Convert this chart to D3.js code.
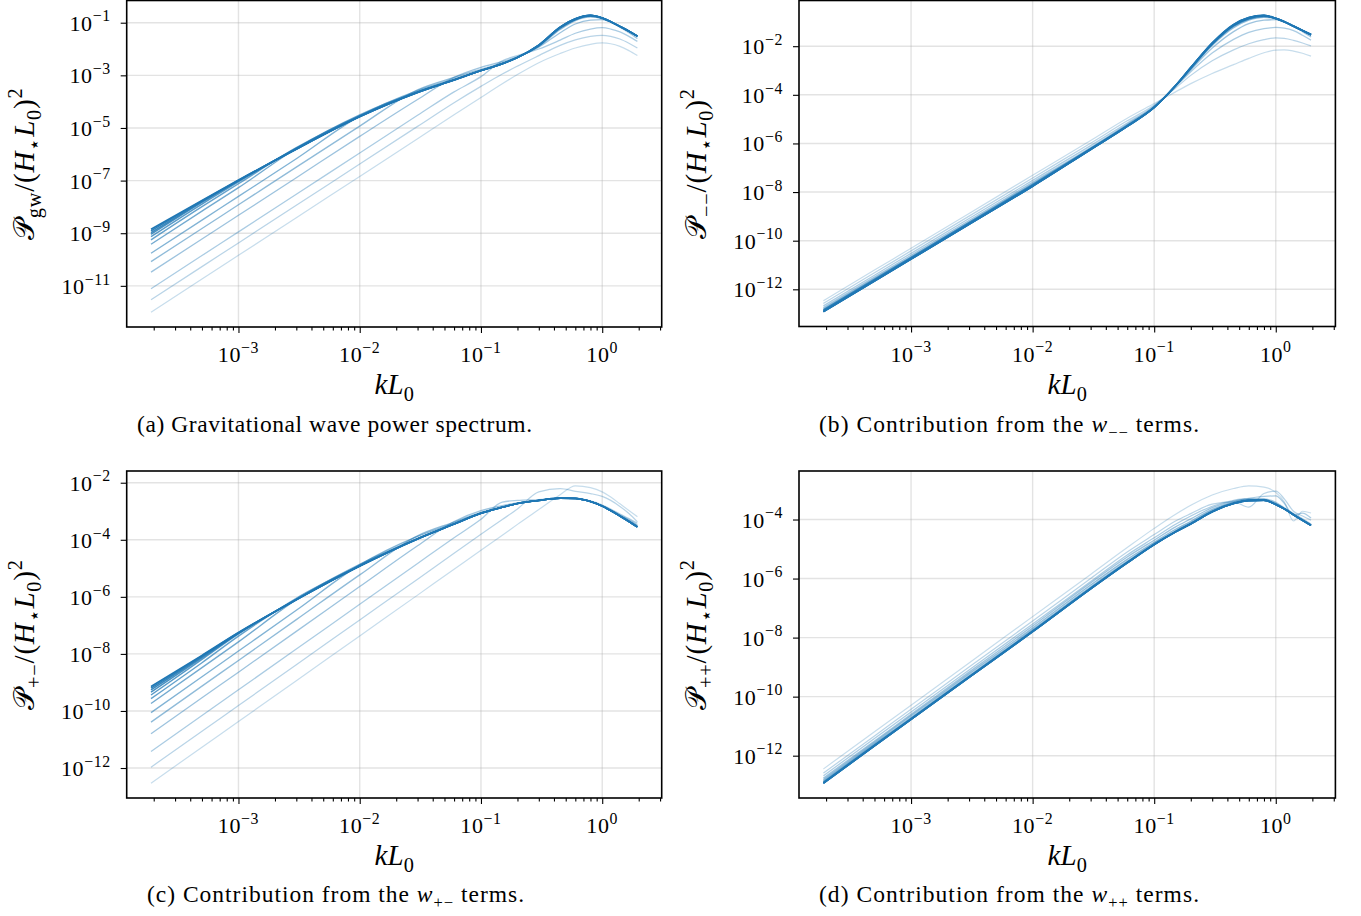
<!DOCTYPE html>
<html>
<head>
<meta charset="utf-8">
<script src="https://cdn.jsdelivr.net/npm/d3@7"></script>
<style>
  body { margin: 0; background: #fff; }
  svg text { font-family: "Liberation Serif", "Times New Roman", serif; fill: #000; }
</style>
</head>
<body>
<svg id="fig" width="1361" height="916"></svg>
<script>
// wavenumbers kL0 where every spectrum is sampled
const kL0 = [1.9e-4, 5e-4, 1e-3, 3e-3, 1e-2, 3e-2, 6e-2, 0.1, 0.15, 0.2, 0.3, 0.45, 0.6, 0.8, 1.0, 1.175, 1.4, 1.66, 1.95];

// log10 of the spectra, one row per snapshot, lightest first
const gwSpectra = [
  [-12.00, -10.74, -9.84, -8.41, -6.84, -5.41, -4.50, -3.84, -3.32, -2.97, -2.52, -2.17, -1.96, -1.82, -1.77, -1.80, -1.90, -2.06, -2.25],
  [-11.53, -10.27, -9.37, -7.94, -6.37, -4.94, -4.04, -3.42, -2.95, -2.65, -2.25, -1.86, -1.65, -1.52, -1.48, -1.52, -1.62, -1.78, -1.96],
  [-11.11, -9.85, -8.95, -7.52, -5.95, -4.52, -3.63, -3.05, -2.45, -2.25, -2.00, -1.66, -1.40, -1.24, -1.19, -1.24, -1.35, -1.52, -1.71],
  [-10.48, -9.22, -8.32, -6.89, -5.32, -3.92, -3.08, -2.70, -2.48, -2.30, -1.93, -1.38, -1.05, -0.90, -0.88, -0.98, -1.17, -1.38, -1.60],
  [-10.08, -8.82, -7.92, -6.49, -4.93, -3.55, -3.08, -2.77, -2.53, -2.31, -1.90, -1.26, -0.92, -0.78, -0.84, -0.98, -1.16, -1.34, -1.53],
  [-9.76, -8.50, -7.60, -6.17, -4.55, -3.58, -3.14, -2.81, -2.55, -2.32, -1.88, -1.22, -0.89, -0.76, -0.83, -0.97, -1.15, -1.33, -1.52],
  [-9.42, -8.16, -7.27, -5.78, -4.50, -3.62, -3.17, -2.82, -2.56, -2.32, -1.87, -1.20, -0.88, -0.75, -0.82, -0.96, -1.14, -1.32, -1.51],
  [-9.25, -7.99, -7.12, -5.75, -4.53, -3.63, -3.17, -2.82, -2.56, -2.32, -1.86, -1.19, -0.87, -0.74, -0.82, -0.96, -1.14, -1.32, -1.51],
  [-9.13, -7.89, -7.05, -5.77, -4.55, -3.64, -3.17, -2.82, -2.56, -2.32, -1.86, -1.18, -0.87, -0.73, -0.82, -0.96, -1.14, -1.32, -1.51],
  [-9.04, -7.83, -7.01, -5.80, -4.56, -3.64, -3.18, -2.82, -2.56, -2.32, -1.85, -1.18, -0.86, -0.73, -0.82, -0.96, -1.14, -1.32, -1.51],
  [-8.98, -7.80, -7.00, -5.81, -4.57, -3.65, -3.18, -2.82, -2.56, -2.32, -1.85, -1.17, -0.86, -0.72, -0.82, -0.96, -1.14, -1.32, -1.51],
  [-8.91, -7.77, -6.99, -5.80, -4.57, -3.65, -3.18, -2.82, -2.56, -2.32, -1.85, -1.17, -0.85, -0.72, -0.82, -0.96, -1.14, -1.32, -1.51],
  [-8.85, -7.75, -6.98, -5.80, -4.57, -3.65, -3.18, -2.82, -2.56, -2.32, -1.85, -1.17, -0.85, -0.72, -0.82, -0.96, -1.14, -1.32, -1.51]
];

const minusMinus = [
  [-12.47, -11.21, -10.31, -8.88, -7.31, -5.88, -4.96, -4.36, -3.88, -3.54, -3.12, -2.76, -2.50, -2.27, -2.16, -2.15, -2.20, -2.29, -2.41],
  [-12.58, -11.32, -10.42, -8.99, -7.42, -5.99, -5.07, -4.42, -3.72, -3.20, -2.60, -2.15, -1.90, -1.73, -1.66, -1.68, -1.76, -1.87, -1.99],
  [-12.68, -11.42, -10.52, -9.09, -7.52, -6.09, -5.16, -4.46, -3.66, -3.05, -2.28, -1.72, -1.43, -1.28, -1.23, -1.26, -1.36, -1.55, -1.75],
  [-12.76, -11.50, -10.60, -9.17, -7.60, -6.17, -5.21, -4.48, -3.64, -2.98, -2.08, -1.40, -1.07, -0.93, -0.91, -1.00, -1.18, -1.40, -1.62],
  [-12.82, -11.56, -10.66, -9.23, -7.66, -6.20, -5.24, -4.50, -3.63, -2.94, -1.97, -1.24, -0.93, -0.81, -0.86, -0.99, -1.18, -1.36, -1.55],
  [-12.84, -11.58, -10.68, -9.25, -7.68, -6.21, -5.26, -4.51, -3.63, -2.92, -1.93, -1.19, -0.89, -0.78, -0.87, -1.01, -1.19, -1.37, -1.54],
  [-12.86, -11.60, -10.70, -9.27, -7.70, -6.22, -5.27, -4.51, -3.63, -2.91, -1.92, -1.17, -0.87, -0.77, -0.87, -1.01, -1.19, -1.37, -1.54],
  [-12.88, -11.62, -10.72, -9.29, -7.72, -6.23, -5.28, -4.52, -3.63, -2.90, -1.91, -1.15, -0.86, -0.76, -0.86, -1.00, -1.18, -1.36, -1.53],
  [-12.90, -11.64, -10.74, -9.31, -7.74, -6.24, -5.29, -4.52, -3.63, -2.89, -1.90, -1.14, -0.85, -0.75, -0.86, -1.00, -1.18, -1.36, -1.53],
  [-12.91, -11.65, -10.75, -9.32, -7.75, -6.25, -5.30, -4.52, -3.62, -2.88, -1.89, -1.13, -0.84, -0.74, -0.86, -0.99, -1.18, -1.35, -1.52],
  [-12.92, -11.66, -10.76, -9.33, -7.76, -6.25, -5.30, -4.52, -3.62, -2.88, -1.88, -1.12, -0.83, -0.74, -0.85, -0.99, -1.17, -1.35, -1.52],
  [-12.92, -11.66, -10.76, -9.33, -7.76, -6.25, -5.30, -4.52, -3.62, -2.88, -1.87, -1.11, -0.82, -0.73, -0.85, -0.99, -1.17, -1.35, -1.52],
  [-12.92, -11.66, -10.76, -9.33, -7.76, -6.25, -5.30, -4.52, -3.62, -2.88, -1.86, -1.10, -0.82, -0.73, -0.85, -0.98, -1.17, -1.35, -1.52]
];

const plusMinus = [
  [-12.53, -11.27, -10.37, -8.94, -7.37, -5.94, -5.03, -4.37, -3.84, -3.46, -2.94, -2.42, -2.11, -2.17, -2.32, -2.50, -2.74, -2.97, -3.19],
  [-11.97, -10.71, -9.81, -8.38, -6.81, -5.38, -4.47, -3.81, -3.29, -2.92, -2.32, -2.21, -2.30, -2.38, -2.48, -2.62, -2.83, -3.08, -3.37],
  [-11.42, -10.16, -9.26, -7.83, -6.26, -4.83, -3.93, -3.28, -2.68, -2.62, -2.59, -2.55, -2.55, -2.64, -2.78, -2.92, -3.10, -3.26, -3.42],
  [-10.80, -9.54, -8.64, -7.21, -5.64, -4.21, -3.36, -2.98, -2.80, -2.71, -2.62, -2.55, -2.55, -2.65, -2.80, -2.95, -3.13, -3.30, -3.48],
  [-10.39, -9.13, -8.23, -6.80, -5.23, -3.86, -3.38, -3.04, -2.85, -2.73, -2.62, -2.55, -2.55, -2.66, -2.81, -2.96, -3.15, -3.33, -3.52],
  [-10.06, -8.80, -7.90, -6.47, -4.88, -3.88, -3.42, -3.06, -2.86, -2.73, -2.62, -2.55, -2.55, -2.66, -2.81, -2.97, -3.16, -3.35, -3.54],
  [-9.74, -8.48, -7.58, -6.10, -4.86, -3.95, -3.45, -3.07, -2.86, -2.73, -2.62, -2.54, -2.55, -2.66, -2.82, -2.98, -3.17, -3.36, -3.55],
  [-9.57, -8.31, -7.38, -6.05, -4.90, -3.96, -3.45, -3.07, -2.86, -2.73, -2.62, -2.54, -2.55, -2.66, -2.82, -2.98, -3.17, -3.36, -3.55],
  [-9.44, -8.19, -7.30, -6.09, -4.91, -3.97, -3.45, -3.07, -2.86, -2.73, -2.62, -2.54, -2.55, -2.66, -2.82, -2.98, -3.17, -3.36, -3.55],
  [-9.34, -8.14, -7.28, -6.10, -4.92, -3.97, -3.45, -3.07, -2.86, -2.73, -2.62, -2.54, -2.55, -2.66, -2.82, -2.98, -3.17, -3.36, -3.55],
  [-9.26, -8.10, -7.27, -6.10, -4.92, -3.97, -3.45, -3.07, -2.86, -2.73, -2.62, -2.54, -2.55, -2.66, -2.82, -2.98, -3.17, -3.36, -3.55],
  [-9.20, -8.07, -7.26, -6.10, -4.92, -3.97, -3.45, -3.07, -2.86, -2.73, -2.62, -2.54, -2.55, -2.66, -2.82, -2.98, -3.17, -3.36, -3.55],
  [-9.145, -8.05, -7.25, -6.10, -4.92, -3.97, -3.45, -3.07, -2.86, -2.73, -2.62, -2.54, -2.55, -2.66, -2.82, -2.98, -3.17, -3.36, -3.55]
];

const plusPlus = [
  [-12.45, -11.19, -10.29, -8.86, -7.29, -5.86, -4.95, -4.30, -3.82, -3.52, -3.17, -2.95, -2.86, -2.90, -3.08, -3.40, -4.05, -3.72, -3.78],
  [-12.59, -11.33, -10.43, -9.00, -7.44, -6.00, -5.10, -4.51, -4.05, -3.80, -3.48, -3.40, -3.58, -3.12, -3.04, -3.30, -3.72, -3.88, -4.02],
  [-12.68, -11.42, -10.52, -9.10, -7.54, -6.10, -5.20, -4.62, -4.16, -3.88, -3.55, -3.35, -3.28, -3.22, -3.20, -3.45, -3.85, -3.78, -3.95],
  [-12.76, -11.50, -10.60, -9.17, -7.61, -6.15, -5.27, -4.70, -4.25, -3.98, -3.60, -3.38, -3.30, -3.30, -3.42, -3.60, -3.80, -3.98, -4.15],
  [-12.81, -11.55, -10.65, -9.23, -7.68, -6.22, -5.35, -4.77, -4.33, -4.06, -3.66, -3.41, -3.32, -3.32, -3.46, -3.62, -3.82, -4.00, -4.18],
  [-12.86, -11.60, -10.71, -9.29, -7.74, -6.29, -5.42, -4.81, -4.38, -4.11, -3.70, -3.43, -3.34, -3.34, -3.48, -3.63, -3.83, -4.02, -4.19],
  [-12.89, -11.63, -10.74, -9.32, -7.77, -6.32, -5.44, -4.83, -4.40, -4.13, -3.72, -3.45, -3.35, -3.34, -3.48, -3.64, -3.83, -4.02, -4.20],
  [-12.91, -11.65, -10.75, -9.33, -7.78, -6.33, -5.45, -4.84, -4.41, -4.14, -3.73, -3.45, -3.35, -3.35, -3.49, -3.64, -3.84, -4.03, -4.20],
  [-12.92, -11.66, -10.76, -9.34, -7.79, -6.34, -5.46, -4.85, -4.42, -4.15, -3.74, -3.46, -3.36, -3.35, -3.49, -3.64, -3.84, -4.03, -4.20],
  [-12.93, -11.67, -10.77, -9.35, -7.80, -6.35, -5.47, -4.85, -4.42, -4.15, -3.74, -3.46, -3.36, -3.35, -3.49, -3.64, -3.84, -4.03, -4.20],
  [-12.93, -11.67, -10.77, -9.35, -7.80, -6.35, -5.47, -4.85, -4.42, -4.15, -3.74, -3.46, -3.36, -3.35, -3.49, -3.64, -3.84, -4.03, -4.20],
  [-12.93, -11.67, -10.77, -9.35, -7.80, -6.35, -5.47, -4.85, -4.42, -4.15, -3.74, -3.46, -3.36, -3.35, -3.49, -3.64, -3.84, -4.03, -4.20],
  [-12.93, -11.67, -10.77, -9.35, -7.80, -6.35, -5.47, -4.85, -4.42, -4.15, -3.74, -3.46, -3.36, -3.35, -3.49, -3.64, -3.84, -4.03, -4.20]
];

// tick exponents
const xTickExp = [-3, -2, -1, 0];
const yTickExpA = [-11, -9, -7, -5, -3, -1];
const yTickExpB = [-12, -10, -8, -6, -4, -2];
const yTickExpC = [-12, -10, -8, -6, -4, -2];
const yTickExpD = [-12, -10, -8, -6, -4];

const panels = [
  { curves: gwSpectra, yTicks: yTickExpA, sub: "gw",
    left: 126.7, top: 0.5, width: 535, height: 326.5, ylabX: 34, capX: 334.5, capY: 432, capW: 395,
    caption: [{t: "(a) Gravitational wave power spectrum."}] },
  { curves: minusMinus, yTicks: yTickExpB, sub: "\u2212\u2212",
    left: 799, top: 0.5, width: 536.4, height: 326, ylabX: 706, capX: 1009, capY: 432, capW: 380,
    caption: [{t: "(b) Contribution from the "}, {t: "w", it: true}, {t: "\u2212\u2212", sub: true}, {t: " terms."}] },
  { curves: plusMinus, yTicks: yTickExpC, sub: "+\u2212",
    left: 126.7, top: 471, width: 535, height: 327, ylabX: 34, capX: 335.5, capY: 902, capW: 377,
    caption: [{t: "(c) Contribution from the "}, {t: "w", it: true}, {t: "+\u2212", sub: true}, {t: " terms."}] },
  { curves: plusPlus, yTicks: yTickExpD, sub: "++",
    left: 799, top: 471, width: 536.4, height: 327, ylabX: 706, capX: 1009, capY: 902, capW: 380,
    caption: [{t: "(d) Contribution from the "}, {t: "w", it: true}, {t: "++", sub: true}, {t: " terms."}] }
];

const svg = d3.select("#fig");

function logPad(ext) {
  const lo = Math.log10(ext[0]), hi = Math.log10(ext[1]);
  const m = 0.05 * (hi - lo);
  return [Math.pow(10, lo - m), Math.pow(10, hi + m)];
}

// write text with sub/superscripts as tspans
function rich(sel, parts, size) {
  let shift = 0;
  parts.forEach(pt => {
    const target = pt.sub ? size * 0.25 : pt.sup ? -size * 0.42 : 0;
    const ts = sel.append("tspan").text(pt.t).attr("dy", target - shift);
    shift = target;
    if (pt.sub || pt.sup) ts.attr("font-size", size * 0.7);
    if (pt.it) ts.attr("font-style", "italic");
  });
}

function powLabel(sel, e, size) {
  const s = e < 0 ? "\u2212" + (-e) : String(e);
  sel.append("tspan").text("10");
  sel.append("tspan").text(s).attr("dy", -size * 0.42).attr("font-size", size * 0.72);
}

panels.forEach(p => {
  const g = svg.append("g");
  const bottom = p.top + p.height;
  const x = d3.scaleLog().domain(logPad(d3.extent(kL0))).range([p.left, p.left + p.width]);
  const flat = p.curves.flat();
  const y = d3.scaleLog()
    .domain(logPad([Math.pow(10, d3.min(flat)), Math.pow(10, d3.max(flat))]))
    .range([bottom, p.top]);

  const xMajor = xTickExp.map(e => Math.pow(10, e));
  const xMinor = [];
  for (let e = -4; e <= 0; e++) {
    for (let m = 2; m <= 9; m++) {
      const v = m * Math.pow(10, e);
      if (v >= x.domain()[0] && v <= x.domain()[1]) xMinor.push(v);
    }
  }
  const yMajor = p.yTicks.map(e => Math.pow(10, e));

  // grid
  g.append("g").selectAll("line").data(xMajor).join("line")
    .attr("x1", d => x(d)).attr("x2", d => x(d))
    .attr("y1", p.top).attr("y2", bottom)
    .attr("stroke", "#b0b0b0").attr("stroke-opacity", 0.35).attr("stroke-width", 1.4);
  g.append("g").selectAll("line").data(yMajor).join("line")
    .attr("y1", d => y(d)).attr("y2", d => y(d))
    .attr("x1", p.left).attr("x2", p.left + p.width)
    .attr("stroke", "#b0b0b0").attr("stroke-opacity", 0.35).attr("stroke-width", 1.4);

  // spectra
  const line = d3.line()
    .x((d, i) => x(kL0[i]))
    .y(d => y(Math.pow(10, d)))
    .curve(d3.curveMonotoneX);
  const n = p.curves.length;
  g.append("g").selectAll("path").data(p.curves).join("path")
    .attr("d", line)
    .attr("fill", "none")
    .attr("stroke", "#1f77b4")
    .attr("stroke-opacity", (d, i) => 0.25 + 0.75 * i / (n - 1))
    .attr("stroke-width", (d, i) => 1.2 + 0.4 * i / (n - 1));

  // axes
  const ax = g.append("g").attr("transform", `translate(0,${bottom})`);
  ax.append("g").call(d3.axisBottom(x).tickValues(xMajor).tickSize(6).tickFormat(""));
  ax.append("g").call(d3.axisBottom(x).tickValues(xMinor).tickSize(3.5).tickFormat(""));
  ax.selectAll(".domain").remove();
  const ay = g.append("g").attr("transform", `translate(${p.left},0)`);
  ay.call(d3.axisLeft(y).tickValues(yMajor).tickSize(6).tickFormat(""));
  ay.selectAll(".domain").remove();
  g.selectAll(".tick line").attr("stroke", "#000").attr("stroke-width", 1.1);

  // tick labels
  xTickExp.forEach(e => {
    const t = g.append("text").attr("x", x(Math.pow(10, e))).attr("y", bottom + 35)
      .attr("text-anchor", "middle").attr("font-size", 22).attr("letter-spacing", 0.6);
    powLabel(t, e, 22);
  });
  p.yTicks.forEach(e => {
    const t = g.append("text").attr("x", p.left - 16).attr("y", y(Math.pow(10, e)) + 8)
      .attr("text-anchor", "end").attr("font-size", 22).attr("letter-spacing", 0.6);
    powLabel(t, e, 22);
  });

  // frame
  g.append("rect").attr("x", p.left).attr("y", p.top).attr("width", p.width).attr("height", p.height)
    .attr("fill", "none").attr("stroke", "#000").attr("stroke-width", 1.6);

  // axis labels
  const xl = g.append("text").attr("x", p.left + p.width / 2).attr("y", bottom + 67)
    .attr("text-anchor", "middle").attr("font-size", 29);
  rich(xl, [{t: "k", it: true}, {t: "L", it: true}, {t: "0", sub: true}], 29);

  const yl = g.append("text")
    .attr("transform", `translate(${p.ylabX},${p.top + p.height / 2}) rotate(-90)`)
    .attr("text-anchor", "middle").attr("font-size", 29).attr("letter-spacing", 0.8);
  rich(yl, [
    {t: "\uD835\uDCAB"}, {t: p.sub, sub: true}, {t: "/("}, {t: "H", it: true}, {t: "\u22C6", sub: true},
    {t: "L", it: true}, {t: "0", sub: true}, {t: ")"}, {t: "2", sup: true}
  ], 29);

  const cap = g.append("text").attr("x", p.capX).attr("y", p.capY)
    .attr("text-anchor", "middle").attr("font-size", 23.5)
    .attr("textLength", p.capW).attr("lengthAdjust", "spacing");
  rich(cap, p.caption, 23.5);
});
</script>
</body>
</html>
